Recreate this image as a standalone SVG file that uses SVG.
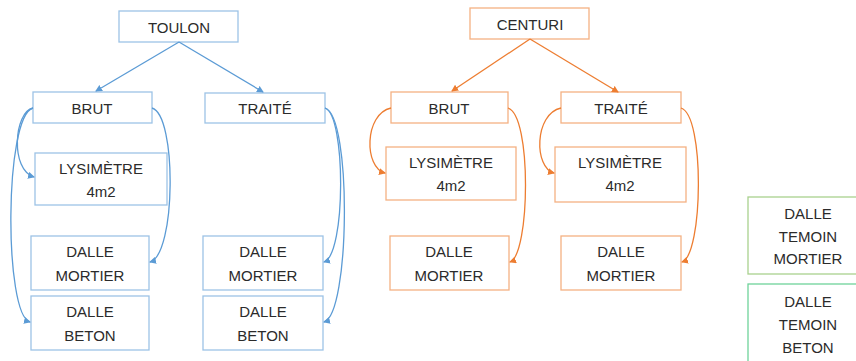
<svg xmlns="http://www.w3.org/2000/svg" width="856" height="361" viewBox="0 0 856 361">
<style>
rect{fill:#fff;stroke-width:1.3}
.b rect{stroke:#9DC3E6}
.o rect{stroke:#F4B183}
text{font-family:"Liberation Sans",Arial,sans-serif;font-size:15px;fill:#2b2b2b;text-anchor:middle}
.cb path{fill:none;stroke:#5B9BD5;stroke-width:1.3;marker-end:url(#ab)}
.co path{fill:none;stroke:#ED7D31;stroke-width:1.3;marker-end:url(#ao)}
</style>
<defs>
<marker id="ab" markerWidth="7" markerHeight="7" refX="6" refY="3.5" orient="auto" markerUnits="userSpaceOnUse"><path d="M0,0 L7,3.5 L0,7 z" fill="#5B9BD5"/></marker>
<marker id="ao" markerWidth="7" markerHeight="7" refX="6" refY="3.5" orient="auto" markerUnits="userSpaceOnUse"><path d="M0,0 L7,3.5 L0,7 z" fill="#ED7D31"/></marker>
</defs>
<rect x="0" y="0" width="856" height="361" style="stroke:none"/>
<g class="b">
<g id="toulon"><rect x="119" y="11" width="119" height="31"/><text x="179" y="33">TOULON</text></g>
<g id="t-brut"><rect x="33" y="92" width="119" height="31"/><text x="92" y="114">BRUT</text></g>
<g id="t-traite"><rect x="205" y="93" width="120" height="30"/><text x="265" y="114">TRAITÉ</text></g>
<g id="t-lys"><rect x="35" y="153" width="132" height="52"/><text x="101" y="174">LYSIMÈTRE</text><text x="101" y="197">4m2</text></g>
<g id="t-b-mortier"><rect x="31" y="236" width="118" height="54"/><text x="90" y="257">DALLE</text><text x="90" y="281">MORTIER</text></g>
<g id="t-b-beton"><rect x="31" y="296" width="118" height="54"/><text x="90" y="317">DALLE</text><text x="90" y="341">BETON</text></g>
<g id="t-t-mortier"><rect x="203" y="236" width="120" height="54"/><text x="263" y="257">DALLE</text><text x="263" y="281">MORTIER</text></g>
<g id="t-t-beton"><rect x="203" y="296" width="120" height="54"/><text x="263" y="317">DALLE</text><text x="263" y="341">BETON</text></g>
</g>
<g class="o">
<g id="centuri"><rect x="470" y="8" width="119" height="31"/><text x="530" y="30">CENTURI</text></g>
<g id="c-brut"><rect x="391" y="92" width="117" height="31"/><text x="449" y="114">BRUT</text></g>
<g id="c-traite"><rect x="561" y="92" width="120" height="31"/><text x="621" y="114">TRAITÉ</text></g>
<g id="c-b-lys"><rect x="386" y="147" width="130" height="53"/><text x="451" y="168">LYSIMÈTRE</text><text x="451" y="191">4m2</text></g>
<g id="c-t-lys"><rect x="555" y="147" width="131" height="55"/><text x="620" y="168">LYSIMÈTRE</text><text x="620" y="191">4m2</text></g>
<g id="c-b-mortier"><rect x="390" y="236" width="119" height="54"/><text x="449" y="257">DALLE</text><text x="449" y="281">MORTIER</text></g>
<g id="c-t-mortier"><rect x="561" y="236" width="120" height="54"/><text x="621" y="257">DALLE</text><text x="621" y="281">MORTIER</text></g>
</g>
<g id="temoin-mortier"><rect x="748" y="197" width="120" height="77" style="stroke:#A9D18E"/><text x="808" y="219">DALLE</text><text x="808" y="242">TEMOIN</text><text x="808" y="264">MORTIER</text></g>
<g id="temoin-beton"><rect x="748" y="284" width="120" height="90" style="stroke:#6FD39A"/><text x="808" y="307">DALLE</text><text x="808" y="330">TEMOIN</text><text x="808" y="353">BETON</text></g>
<g id="connectors">
<g class="cb">
<path d="M179,42 L96,91"/>
<path d="M179,42 L263,92"/>
<path d="M33,108 C14,112 10,170 34,177"/>
<path d="M33,108 C4,116 4,315 30,322"/>
<path d="M152,108 C177,115 176,255 150,262"/>
<path d="M325,108 C346,115 346,255 324,262"/>
<path d="M325,108 C352,116 350,315 324,322"/>
</g>
<g class="co">
<path d="M530,39 L452,91"/>
<path d="M530,39 L618,92"/>
<path d="M391,108 C364,114 364,168 385,173"/>
<path d="M508,108 C532,115 530,255 510,262"/>
<path d="M561,108 C534,114 534,168 554,173"/>
<path d="M681,108 C705,115 703,255 682,262"/>
</g>
</g>
</svg>
